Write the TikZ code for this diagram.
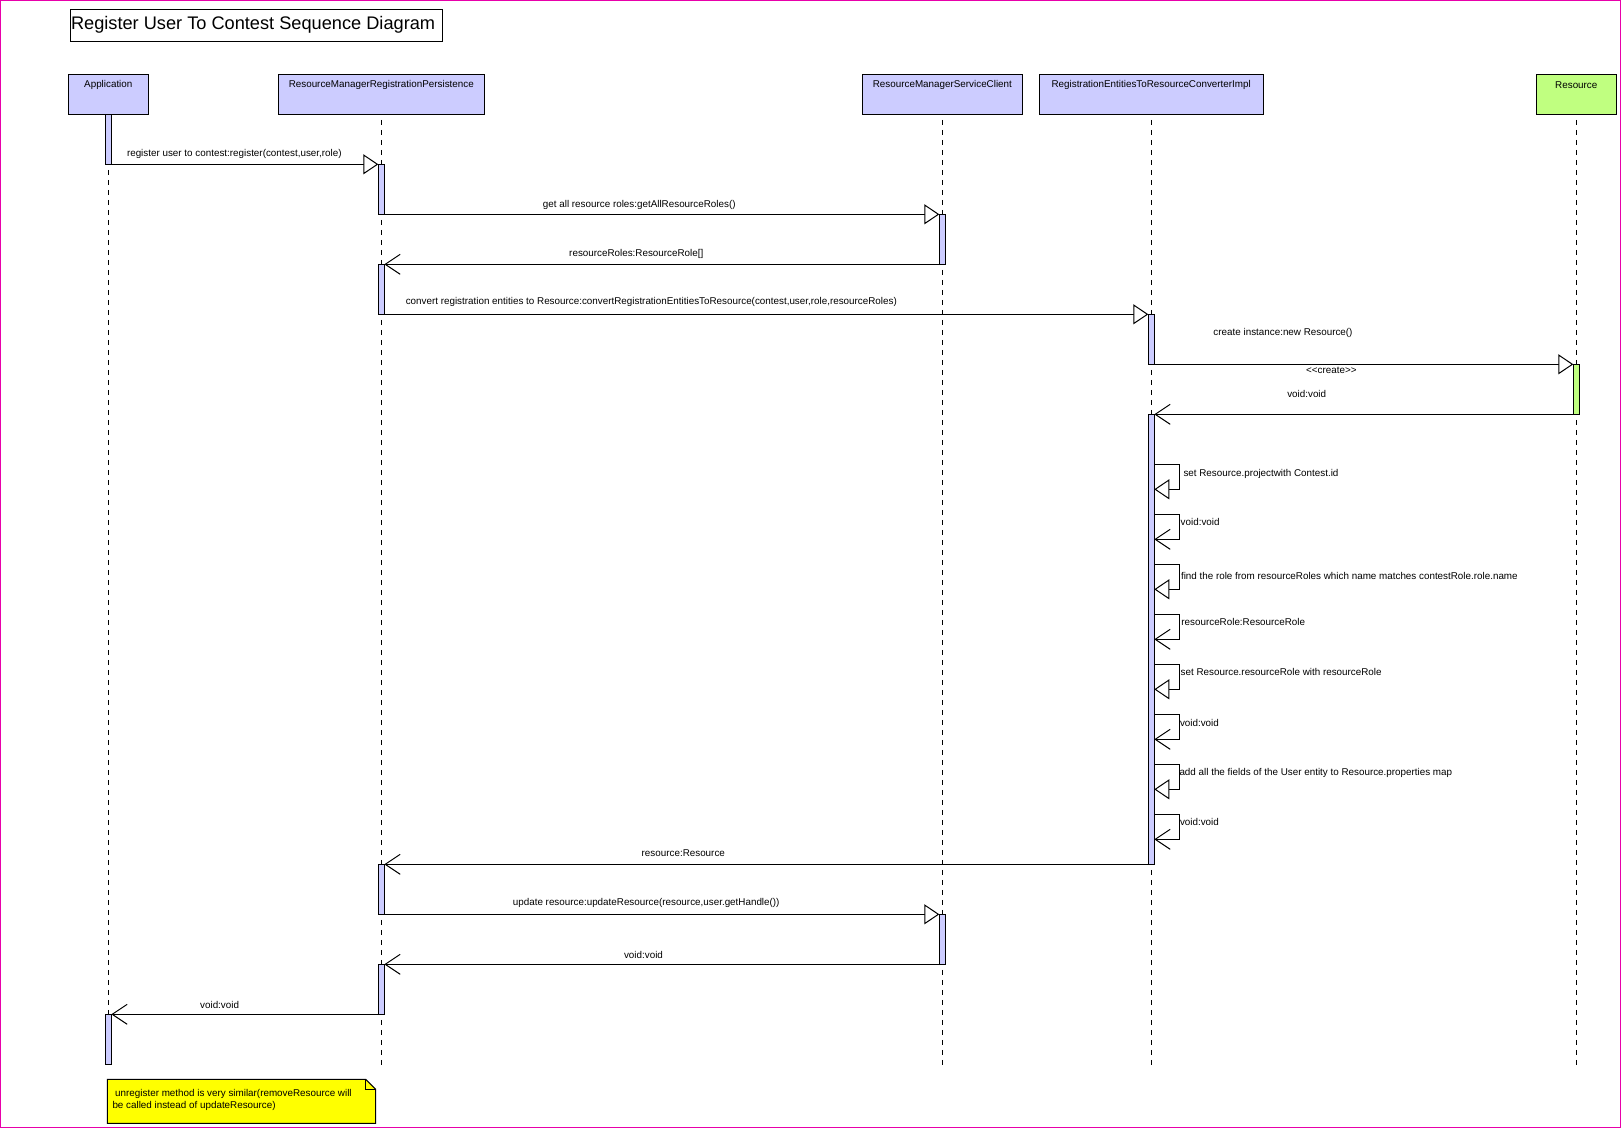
\documentclass[tikz,border=0pt]{standalone}
\usepackage{fontspec}
\setmainfont{Liberation Sans}
\usetikzlibrary{arrows.meta}

\definecolor{lav}{RGB}{204,204,255}
\definecolor{grn}{RGB}{192,255,128}
\definecolor{noteyellow}{RGB}{255,255,0}
\definecolor{framepink}{RGB}{232,0,170}

\newcommand\lblfont{\fontsize{9.85}{11}\selectfont}
% activation bar: name, x, top, bottom, fill
\newcommand\mkbar[5]{\node[actbar,fill=#5,minimum height={(#4-#3)*1pt}] (#1) at (#2,{(#3+#4)/2}) {};}

\begin{document}
\begin{tikzpicture}[x=1pt,y=-1pt,
  lifebox/.style={draw,fill=lav,line width=1pt,minimum height=40pt,inner sep=0pt},
  lbl/.style={font=\lblfont,inner sep=0pt},
  actbar/.style={draw,line width=0.9pt,minimum width=6pt,inner sep=0pt,outer sep=0pt},
  lifeline/.style={line width=0.9pt,dash pattern=on 5pt off 5pt},
  callmsg/.style={line width=1pt,-{Triangle[length=15pt,width=20pt,fill=white]}},
  retmsg/.style={line width=1pt,-{Straight Barb[length=15pt,width=20pt]}}]

\path[use as bounding box] (0,0) rectangle (1621,1128);
\draw[framepink,line width=1.2pt] (0.6,0.6) rectangle (1620.4,1127.4);

% title
\node[draw,line width=1pt,minimum width=372pt,minimum height=32pt,inner sep=0pt] (titlebox) at (256.4,25.3) {};
\node[anchor=west,inner sep=0pt,font=\fontsize{18.2}{20}\selectfont] (title) at (70.8,24.6) {Register User To Contest Sequence Diagram};

% participants
\node[lifebox,minimum width=80pt]  (app)  at (108.3,94.3) {};
\node[lifebox,minimum width=206pt] (rmrp) at (381.3,94.3) {};
\node[lifebox,minimum width=160pt] (rmsc) at (942.4,94.3) {};
\node[lifebox,minimum width=224pt] (conv) at (1151.2,94.3) {};
\node[lifebox,minimum width=80pt,fill=grn] (res) at (1576.3,94.3) {};
\node[lbl] (appT)  at (108.3,84.8) {Application};
\node[lbl] (rmrpT) at (381.3,84.8) {ResourceManagerRegistrationPersistence};
\node[lbl] (rmscT) at (942.4,84.8) {ResourceManagerServiceClient};
\node[lbl] (convT) at (1151.2,84.8) {RegistrationEntitiesToResourceConverterImpl};
\node[lbl] (resT)  at (1576.3,84.8) {Resource};

% lifelines
\coordinate (lend) at (0,1069.5);
\foreach \p in {app,rmrp,rmsc,conv,res}
  \draw[lifeline] ([yshift=-5pt]\p.south) -- (\p.south |- lend);

% activation bars
\mkbar{a1}{108.3}{114.3}{164.3}{lav}
\mkbar{r1}{381.3}{164.3}{214.3}{lav}
\mkbar{s1}{942.3}{214.3}{264.3}{lav}
\mkbar{r2}{381.3}{264.3}{314.3}{lav}
\mkbar{c1}{1151.3}{314.3}{364.3}{lav}
\mkbar{g1}{1576.3}{364.3}{414.3}{grn}
\mkbar{c2}{1151.3}{414.3}{864.3}{lav}
\mkbar{r3}{381.3}{864.3}{914.3}{lav}
\mkbar{s2}{942.3}{914.3}{964.3}{lav}
\mkbar{r4}{381.3}{964.3}{1014.3}{lav}
\mkbar{a2}{108.3}{1014.3}{1064.3}{lav}

% messages
\draw[callmsg] (a1.south east) -- (r1.north west);
\draw[callmsg] (r1.south east) -- (s1.north west);
\draw[retmsg]  (s1.south west) -- (r2.north east);
\draw[callmsg] (r2.south east) -- (c1.north west);
\draw[callmsg] (c1.south east) -- (g1.north west);
\draw[retmsg]  (g1.south west) -- (c2.north east);
\draw[retmsg]  (c2.south west) -- (r3.north east);
\draw[callmsg] (r3.south east) -- (s2.north west);
\draw[retmsg]  (s2.south west) -- (r4.north east);
\draw[retmsg]  (r4.south west) -- (a2.north east);

% self messages on the converter
\foreach \i/\kind in {0/callmsg,1/retmsg,2/callmsg,3/retmsg,4/callmsg,5/retmsg,6/callmsg,7/retmsg}{
  \coordinate (lt\i) at (1179.3,{464.3+50*\i});
  \coordinate (lb\i) at (1179.3,{489.3+50*\i});
  \draw[\kind] (c2.east |- lt\i) -- (lt\i) -- (lb\i) -- (c2.east |- lb\i);
}

% message labels
\node[lbl] (m1)  at (234.3,153.6) {register user to contest:register(contest,user,role)};
\node[lbl] (m2)  at (639.3,204.6) {get all resource roles:getAllResourceRoles()};
\node[lbl] (m3)  at (636.3,253.6) {resourceRoles:ResourceRole[]};
\node[lbl] (m4)  at (651.3,302.4) {convert registration entities to Resource:convertRegistrationEntitiesToResource(contest,user,role,resourceRoles)};
\node[lbl] (m5)  at (1283,333.3) {create instance:new Resource()};
\node[lbl] (m5b) at (1331.3,370.7) {<{}<create>{}>};
\node[lbl] (m6)  at (1306.7,393.7) {void:void};
\node[lbl,anchor=west] (s0) at (1183.3,473.7) {set Resource.projectwith Contest.id};
\node[lbl,anchor=west] (s1) at (1180.5,521.7) {void:void};
\node[lbl,anchor=west] (s2) at (1180.8,575.8) {find the role from resourceRoles which name matches contestRole.role.name};
\node[lbl,anchor=west] (s3) at (1181.2,621.7) {resourceRole:ResourceRole};
\node[lbl,anchor=west] (s4) at (1180.5,671.7) {set Resource.resourceRole with resourceRole};
\node[lbl,anchor=west] (s5) at (1179.8,722.7) {void:void};
\node[lbl,anchor=west] (s6) at (1179.3,772.7) {add all the fields of the User entity to Resource.properties map};
\node[lbl,anchor=west] (s7) at (1179.8,821.7) {void:void};
\node[lbl] (m7)  at (683.3,853.2) {resource:Resource};
\node[lbl] (m8)  at (646.2,903.3) {update resource:updateResource(resource,user.getHandle())};
\node[lbl] (m9)  at (643.5,954.6) {void:void};
\node[lbl] (m10) at (219.6,1004.6) {void:void};

% note
\draw[line width=1pt,fill=noteyellow] (107.3,1079.3) -- (365.7,1079.3) -- (375.7,1089.3) -- (375.7,1123.3) -- (107.3,1123.3) -- cycle;
\draw[line width=0.9pt] (365.7,1079.3) -- (365.7,1089.3) -- (375.7,1089.3);
\node[lbl,anchor=north west,align=left,font=\fontsize{9.85}{12.4}\selectfont] (note) at (112.3,1089.2)
  {\ unregister method is very similar(removeResource will\\be called instead of updateResource)};

\end{tikzpicture}
\end{document}
